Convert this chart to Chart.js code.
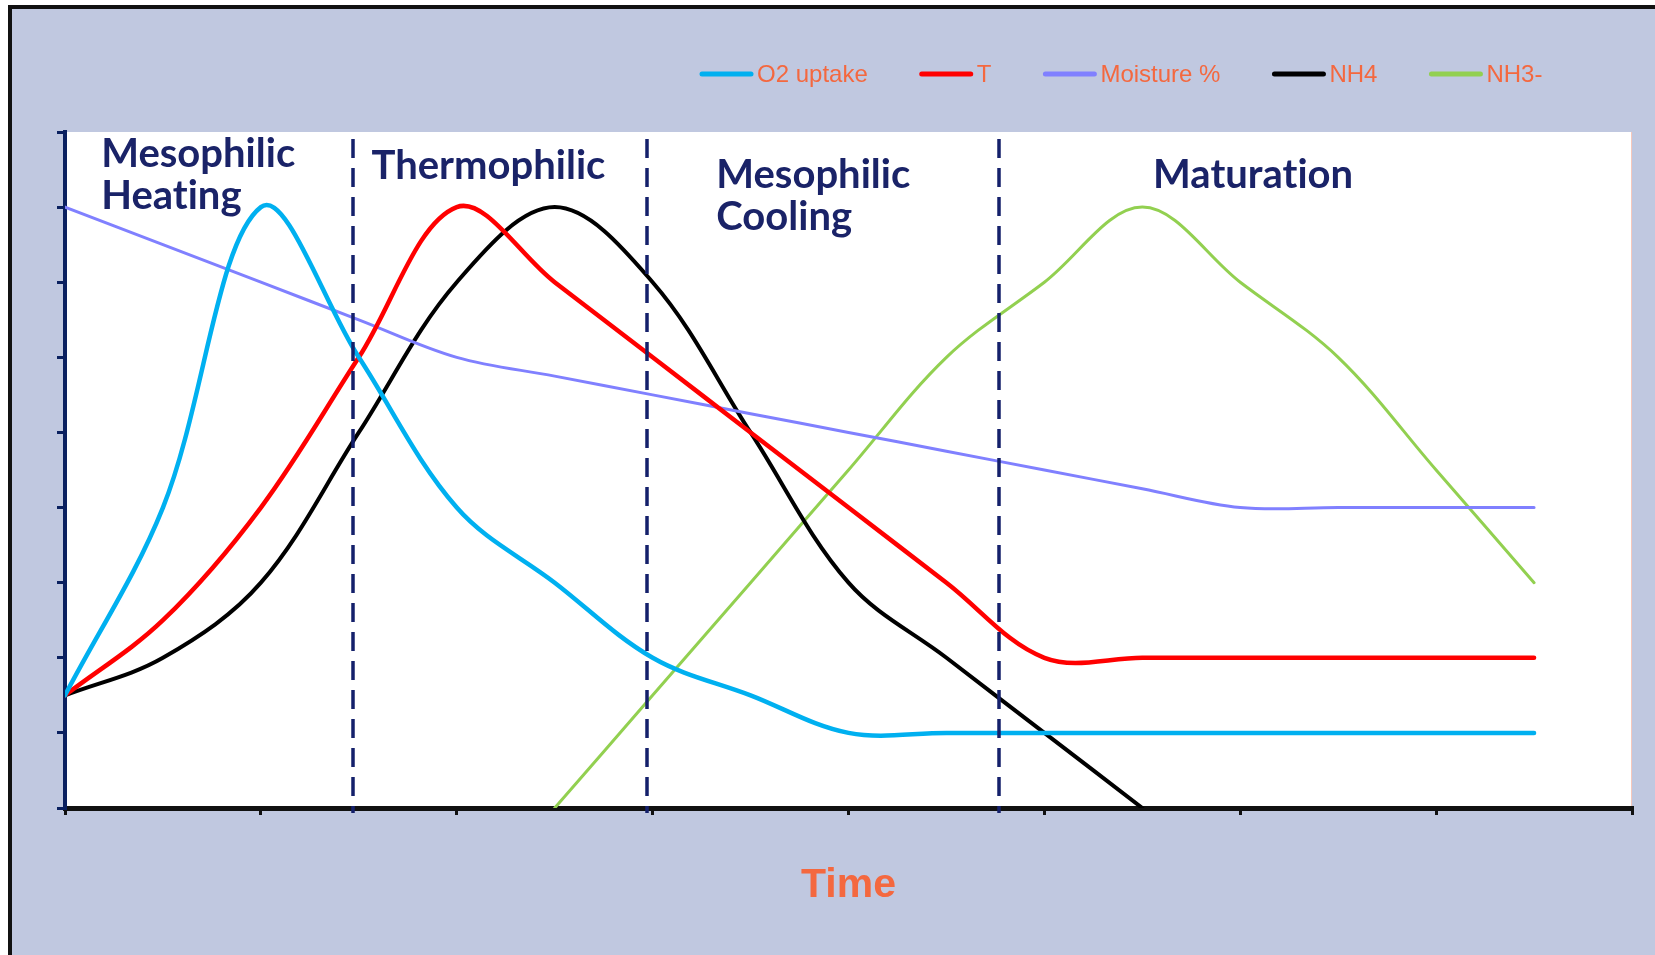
<!DOCTYPE html>
<html>
<head>
<meta charset="utf-8">
<title>Composting phases</title>
<script src="https://cdn.jsdelivr.net/npm/chart.js@4.4.1/dist/chart.umd.min.js"></script>
<style>
  html, body { margin: 0; padding: 0; background: #fff; }
  #wrap { width: 1655px; height: 955px; }
</style>
</head>
<body>
<div id="wrap"><canvas id="compostChart" width="1655" height="955"></canvas></div>
<script>
// --- data (x = time, arbitrary units) ---
var times       = [0, 0.5, 1, 1.5, 2, 2.5, 3, 3.5, 4, 4.5, 5, 5.5, 6, 6.5, 7, 7.5];
var o2Uptake    = [1.5, 4, 8, 6, 4, 3, 2, 1.5, 1, 1, 1, 1, 1, 1, 1, 1];
var temperature = [1.5, 2.5, 4, 6, 8, 7, 6, 5, 4, 3, 2, 2, 2, 2, 2, 2];
var moisture    = [8, 7.5, 7, 6.5, 6, 5.75, 5.5, 5.25, 5, 4.75, 4.5, 4.25, 4, 4, 4, 4];
var nh4         = [1.5, 2, 3, 5, 7, 8, 7, 5, 3, 2, 1, 0, null, null, null, null];
var nh3         = [null, null, null, null, null, 0, 1.5, 3, 4.5, 6, 7, 8, 7, 6, 4.5, 3];

var seriesNames  = ['O2 uptake', 'T', 'Moisture %', 'NH4', 'NH3-'];
var phaseBounds  = [1.47, 2.97, 4.77];
var phaseNames   = [['Mesophilic', 'Heating'], ['Thermophilic'], ['Mesophilic', 'Cooling'], ['Maturation']];

function toPoints(arr) {
    return times.map(function(t, i) { return { x: t, y: arr[i] }; });
}

var navy = '#1a2368';
var orange = '#f4683f';

// panel background + frame
var backdrop = {
    id: 'backdrop',
    beforeDraw: function(chart) {
        var ctx = chart.ctx, a = chart.chartArea;
        ctx.save();
        ctx.fillStyle = '#ffffff';
        ctx.fillRect(0, 0, chart.width, chart.height);
        ctx.fillStyle = '#c0c8e0';
        ctx.fillRect(8, 5, chart.width - 8, chart.height - 5);
        ctx.fillStyle = '#111111';
        ctx.fillRect(8, 5, chart.width - 8, 4);   // top rule
        ctx.fillRect(8, 5, 4, chart.height - 5);  // left rule
        ctx.fillStyle = '#ffffff';
        ctx.fillRect(a.left, a.top, a.right - a.left, a.bottom - a.top);
        ctx.fillStyle = '#f6c8bc';
        ctx.fillRect(a.right - 1, a.top, 1, a.bottom - a.top);
        ctx.restore();
    }
};

// dashed phase separators and phase names
var phases = {
    id: 'phases',
    afterDatasetsDraw: function(chart) {
        var ctx = chart.ctx, a = chart.chartArea, xs = chart.scales.x;
        ctx.save();
        ctx.strokeStyle = '#14206b';
        ctx.lineWidth = 3.5;
        ctx.setLineDash([19, 10]);
        phaseBounds.forEach(function(b) {
            var px = Math.round(xs.getPixelForValue(b));
            ctx.beginPath();
            ctx.moveTo(px, a.top + 7);
            ctx.lineTo(px, a.bottom + 5);
            ctx.stroke();
        });
        ctx.setLineDash([]);

        var textX = [0.185, 1.565, 3.325, 5.555];
        var textY = [167, 179, 188, 188];
        ctx.fillStyle = navy;
        ctx.font = 'bold 40px Lato, "Open Sans", sans-serif';
        ctx.textRendering = 'optimizeSpeed';   // no "ti" ligature
        ctx.textAlign = 'left';
        ctx.textBaseline = 'alphabetic';
        phaseNames.forEach(function(lines, i) {
            lines.forEach(function(line, j) {
                ctx.fillText(line, xs.getPixelForValue(textX[i]), textY[i] + j * 42);
            });
        });
        ctx.restore();
    }
};

// legend in the top band, line + label, laid out from left to right
var lineLegend = {
    id: 'lineLegend',
    afterDraw: function(chart) {
        var ctx = chart.ctx;
        var x = 700, y = 74;
        ctx.save();
        ctx.font = '24px "Liberation Sans", Arial, sans-serif';
        ctx.textBaseline = 'alphabetic';
        ctx.lineCap = 'round';
        chart.data.datasets.forEach(function(ds) {
            ctx.strokeStyle = ds.borderColor;
            ctx.lineWidth = 5;
            ctx.beginPath();
            ctx.moveTo(x + 2, y);
            ctx.lineTo(x + 51, y);
            ctx.stroke();
            ctx.fillStyle = orange;
            ctx.fillText(ds.label, x + 57, y + 8);
            x += 57 + ctx.measureText(ds.label).width + 52;
        });
        ctx.restore();
    }
};

var ctx = document.getElementById('compostChart').getContext('2d');
var compostChart = new Chart(ctx, {
    type: 'line',
    data: {
        datasets: [
            { label: seriesNames[0], data: toPoints(o2Uptake),    borderColor: '#00b0f0', borderWidth: 4.5 },
            { label: seriesNames[1], data: toPoints(temperature), borderColor: '#ff0000', borderWidth: 4.5 },
            { label: seriesNames[2], data: toPoints(moisture),    borderColor: '#8080ff', borderWidth: 3 },
            { label: seriesNames[3], data: toPoints(nh4),         borderColor: '#000000', borderWidth: 4 },
            { label: seriesNames[4], data: toPoints(nh3),         borderColor: '#92d050', borderWidth: 3 }
        ]
    },
    options: {
        responsive: false,
        animation: false,
        events: [],
        layout: { padding: { left: 0, top: 132, right: 23, bottom: 0 } },
        elements: {
            point: { radius: 0 },
            line: { tension: 0.35, fill: false, borderCapStyle: 'round', borderJoinStyle: 'round' }
        },
        plugins: {
            legend: { display: false },
            tooltip: { enabled: false }
        },
        scales: {
            x: {
                type: 'linear',
                min: 0,
                max: 8,
                ticks: { stepSize: 1, display: false },
                grid: { drawOnChartArea: false, drawTicks: true, tickLength: 7, color: '#111111', lineWidth: 3 },
                border: { color: '#111111', width: 5 },
                title: {
                    display: true,
                    text: 'Time',
                    color: orange,
                    font: { family: '"Liberation Sans", Arial, sans-serif', size: 41, weight: 'bold' },
                    padding: { top: 0, bottom: 45 }
                },
                afterFit: function(scale) { scale.height = 147; }
            },
            y: {
                min: 0,
                max: 9,
                ticks: { stepSize: 1, display: false },
                grid: { drawOnChartArea: false, drawTicks: true, tickLength: 8, color: '#0a2060', lineWidth: 3 },
                border: { color: '#0a2060', width: 4 },
                afterFit: function(scale) { scale.width = 65; }
            }
        }
    },
    plugins: [backdrop, phases, lineLegend]
});
</script>
</body>
</html>
